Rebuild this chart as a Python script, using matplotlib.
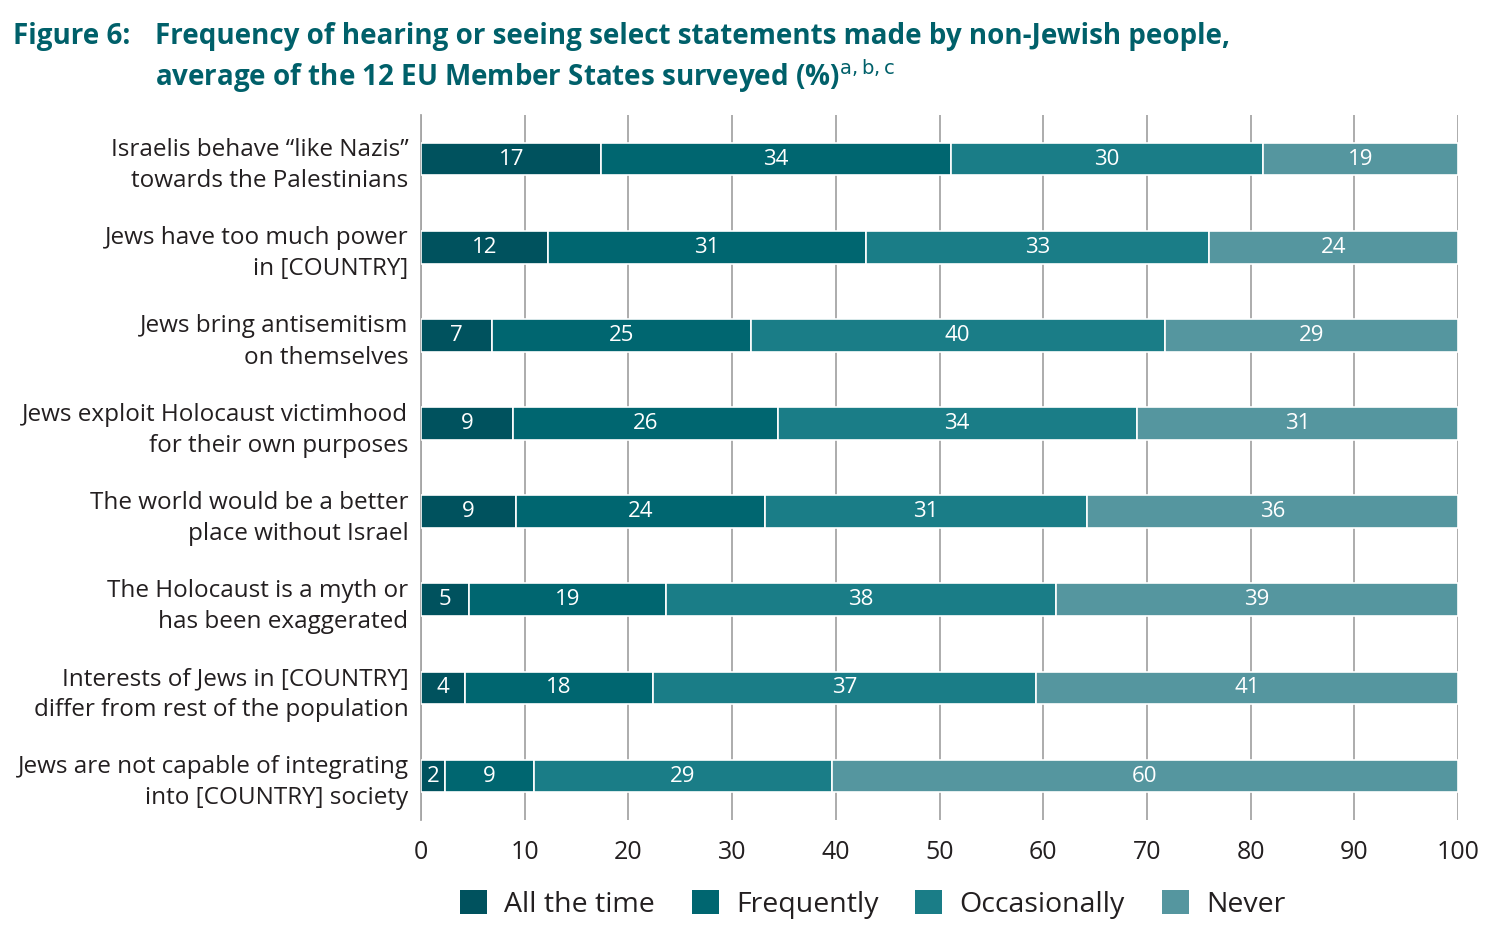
import matplotlib
matplotlib.use("Agg")
import matplotlib.pyplot as plt
import numpy as np
from matplotlib.patches import Patch

plt.rcParams["font.family"] = ["Open Sans", "DejaVu Sans"]

categories = [
    "Israelis behave \u201clike Nazis\u201d\ntowards the Palestinians",
    "Jews have too much power\nin [COUNTRY]",
    "Jews bring antisemitism\non themselves",
    "Jews exploit Holocaust victimhood\nfor their own purposes",
    "The world would be a better\nplace without Israel",
    "The Holocaust is a myth or\nhas been exaggerated",
    "Interests of Jews in [COUNTRY]\ndiffer from rest of the population",
    "Jews are not capable of integrating\ninto [COUNTRY] society",
]
series = ["All the time", "Frequently", "Occasionally", "Never"]

# bar lengths
all_the_time = [17.4, 12.2, 6.8, 8.9, 9.2, 4.6, 4.2, 2.3]
frequently = [33.7, 30.7, 25.0, 25.5, 24.0, 19.0, 18.2, 8.6]
occasionally = [30.1, 33.1, 39.9, 34.6, 31.0, 37.6, 36.9, 28.7]
never = [18.8, 24.0, 28.3, 31.0, 35.8, 38.8, 40.7, 60.4]

# printed labels
lab_all = [17, 12, 7, 9, 9, 5, 4, 2]
lab_freq = [34, 31, 25, 26, 24, 19, 18, 9]
lab_occ = [30, 33, 40, 34, 31, 38, 37, 29]
lab_never = [19, 24, 29, 31, 36, 39, 41, 60]

colors = ["#00525e", "#006670", "#1a7d87", "#55969f"]
teal_title = "#00606a"
text_col = "#231f20"

fig = plt.figure(figsize=(14.94, 9.33), dpi=100)
ax = fig.add_axes([0.2818, 0.121, 0.6941, 0.7557])

y = np.arange(len(categories))
left = np.zeros(len(categories))
for vals, labs, col, name in zip(
    [all_the_time, frequently, occasionally, never],
    [lab_all, lab_freq, lab_occ, lab_never],
    colors,
    series,
):
    vals = np.array(vals)
    ax.barh(y, vals, left=left, height=0.37, color=col, edgecolor="white",
            linewidth=1.2, zorder=3, label=name)
    for yi, l, v, t in zip(y, left, vals, labs):
        ax.text(l + v / 2, yi, str(t), ha="center", va="center",
                color="white", fontsize=16, zorder=4)
    left = left + vals

ax.set_xlim(0, 100)
ax.set_ylim(7.5, -0.5)
ax.set_xticks(np.arange(0, 101, 10))
ax.set_yticks(y)
ax.set_yticklabels(categories, fontsize=17.5, color=text_col, linespacing=1.4)
ax.tick_params(axis="x", labelsize=18, length=0, pad=14, colors=text_col)
ax.tick_params(axis="y", length=0, pad=9)
ax.grid(axis="x", color="#a6a6a6", linewidth=1.3, zorder=0)
ax.set_axisbelow(True)
for s in ["top", "right", "bottom"]:
    ax.spines[s].set_visible(False)
ax.spines["left"].set_color("#a6a6a6")
ax.spines["left"].set_linewidth(1.3)

handles = [Patch(facecolor=c, edgecolor="none") for c in colors]
fig.legend(handles, series, loc="center", bbox_to_anchor=(0.584, 0.031),
           ncol=4, frameon=False, fontsize=20.5, handlelength=0.95,
           handleheight=0.95, handletextpad=0.6, columnspacing=1.3,
           labelcolor=text_col)

fig.text(0.009, 0.961, "Figure 6:", fontsize=20, fontweight="bold",
         color=teal_title, va="center")
fig.text(0.104, 0.961,
         "Frequency of hearing or seeing select statements made by non-Jewish people,",
         fontsize=20, fontweight="bold", color=teal_title, va="center")
fig.text(0.104, 0.918, "average of the 12 EU Member States surveyed (%)$^{\\mathrm{a,b,c}}$",
         fontsize=20, fontweight="bold", color=teal_title, va="center")

fig.savefig("out.png", dpi=100)
